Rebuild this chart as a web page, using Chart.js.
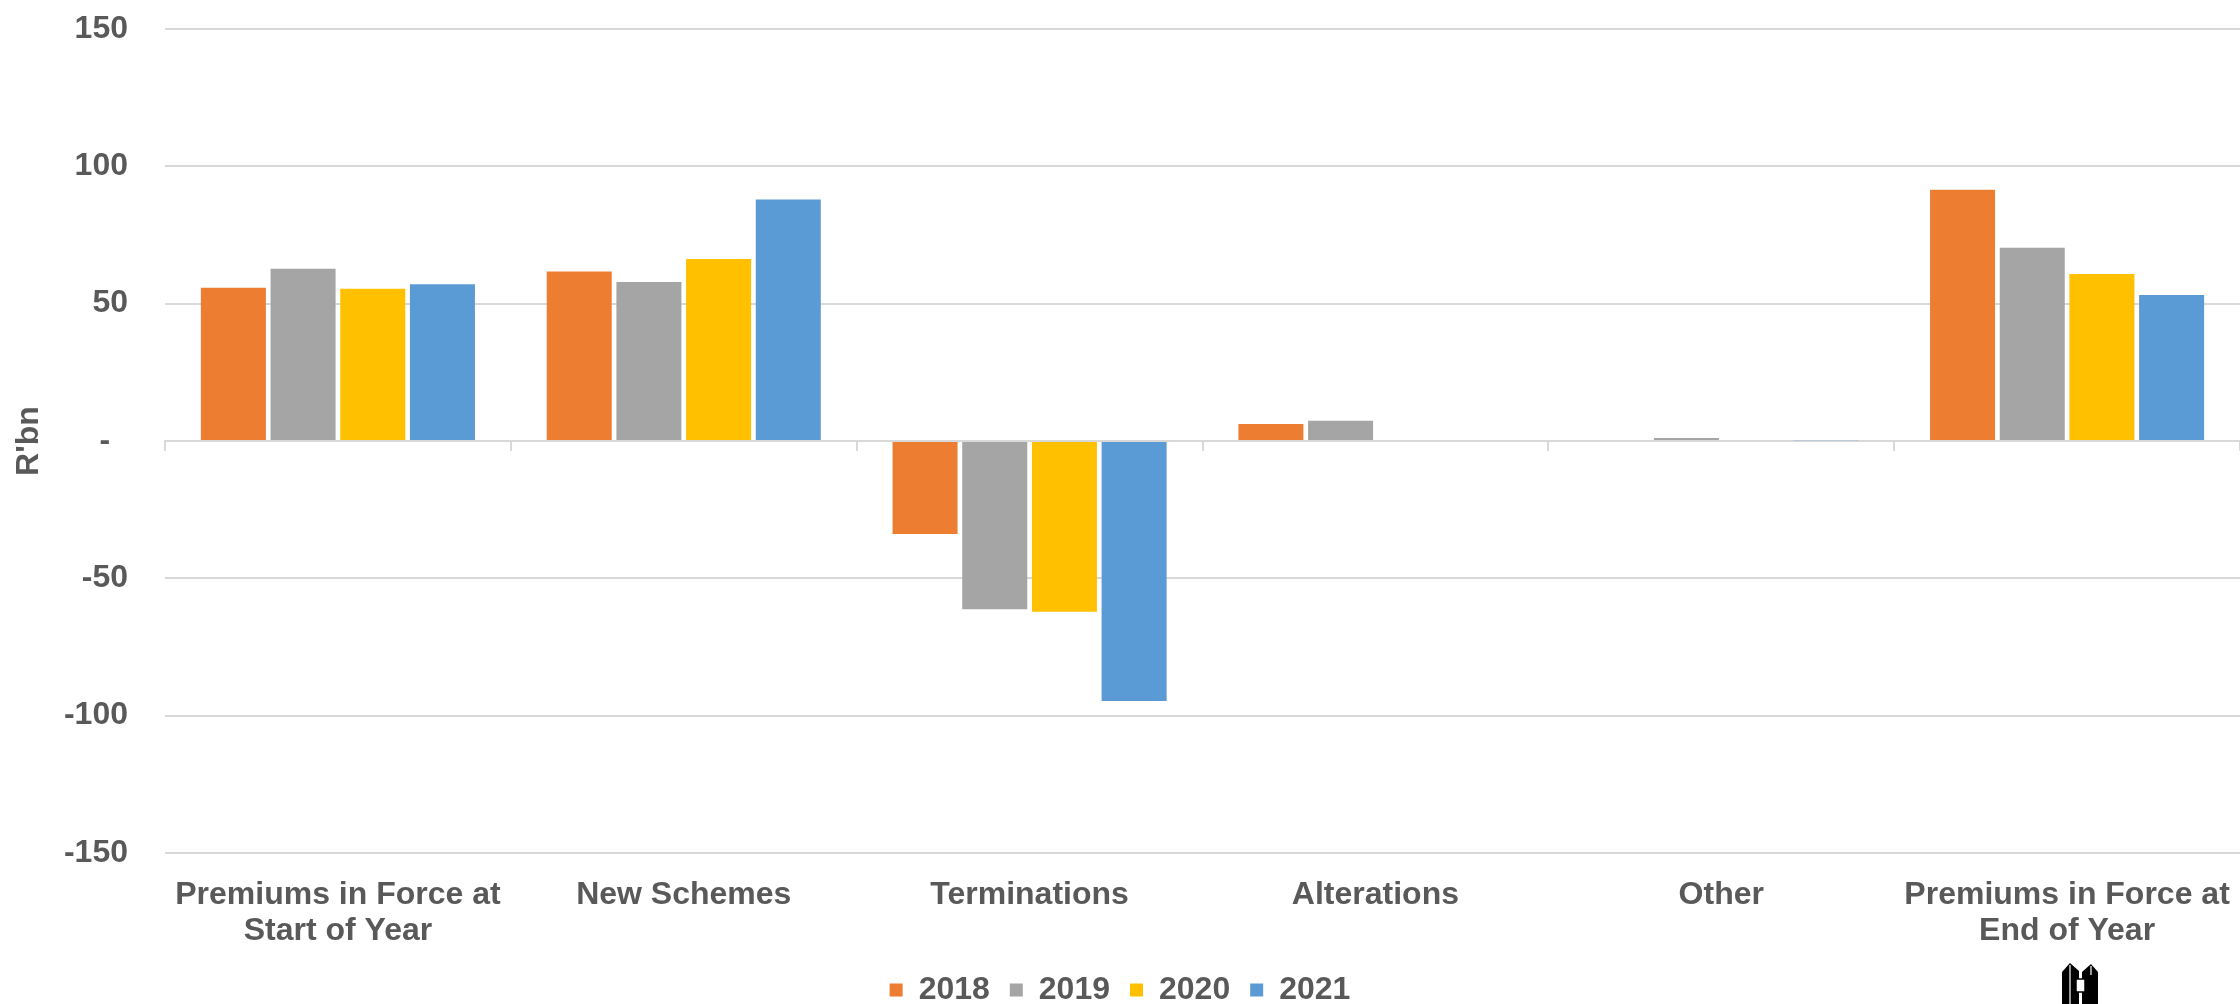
<!DOCTYPE html>
<html>
<head>
<meta charset="utf-8">
<title>Group risk premiums movement</title>
<script src="https://cdn.jsdelivr.net/npm/chart.js@4.4.1/dist/chart.umd.min.js"></script>
<style>
  html, body { margin: 0; padding: 0; background: #ffffff; overflow: hidden; }
  #wrap { width: 2240px; height: 1016px; position: relative; }
</style>
</head>
<body>
<div id="wrap"><canvas id="chart"></canvas></div>
<script>
// Movement in premiums in force (R'bn), by year
const categories = [
  ['Premiums in Force at', 'Start of Year'],
  'New Schemes',
  'Terminations',
  'Alterations',
  'Other',
  ['Premiums in Force at', 'End of Year']
];
const years = ['2018', '2019', '2020', '2021'];
const values2018 = [55.8, 61.7, -33.9, 6.2, 0, 91.5];
const values2019 = [62.7, 57.9, -61.3, 7.4, 1.1, 70.4];
const values2020 = [55.4, 66.3, -62.2, 0, 0, 60.8];
const values2021 = [57.1, 87.9, -94.7, 0, 0.3, 53.2];
const yTicks = [-150, -100, -50, 0, 50, 100, 150];

const seriesColors = ['#ED7D31', '#A5A5A5', '#FFC000', '#5B9BD5'];
const textColor = '#595959';
const gridColor = '#d9d9d9';
const fontFamily = "'Liberation Sans', Arial, sans-serif";

const seriesValues = [values2018, values2019, values2020, values2021];
const datasets = years.map((y, i) => ({
  label: y,
  data: seriesValues[i],
  backgroundColor: seriesColors[i],
  borderWidth: 0,
  categoryPercentage: 0.806,
  barPercentage: 0.933
}));

// small building mark in the lower right corner
const logoPlugin = {
  id: 'logo',
  afterDraw(chart) {
    const ctx = chart.ctx;
    const ox = chart.width - 178, oy = 963;
    ctx.save();
    ctx.fillStyle = '#000';
    ctx.beginPath();
    ctx.moveTo(ox, oy + 9); ctx.lineTo(ox + 8, oy); ctx.lineTo(ox + 17, oy + 8);
    ctx.lineTo(ox + 17, oy + 45); ctx.lineTo(ox, oy + 45); ctx.closePath();
    ctx.fill();
    ctx.beginPath();
    ctx.moveTo(ox + 20, oy + 9); ctx.lineTo(ox + 29, oy + 1); ctx.lineTo(ox + 36, oy + 9);
    ctx.lineTo(ox + 36, oy + 45); ctx.lineTo(ox + 20, oy + 45); ctx.closePath();
    ctx.fill();
    ctx.strokeStyle = '#fff';
    ctx.lineWidth = 1.2;
    ctx.beginPath();
    ctx.moveTo(ox + 8, oy + 2); ctx.lineTo(ox + 8, oy + 45);
    ctx.moveTo(ox + 29, oy + 3); ctx.lineTo(ox + 29, oy + 12);
    ctx.stroke();
    ctx.fillStyle = '#fff';
    ctx.fillRect(ox + 14, oy + 16, 9, 13);
    ctx.strokeStyle = '#000';
    ctx.lineWidth = 1.5;
    ctx.strokeRect(ox + 14, oy + 16, 9, 13);
    ctx.restore();
  }
};

new Chart(document.getElementById('chart'), {
  type: 'bar',
  data: { labels: categories, datasets },
  plugins: [logoPlugin],
  options: {
    responsive: true,
    maintainAspectRatio: false,
    animation: false,
    layout: { padding: { top: 29, right: 0, left: 0, bottom: 0 } },
    plugins: {
      tooltip: { enabled: false },
      legend: {
        position: 'bottom',
        labels: {
          boxWidth: 13,
          boxHeight: 13,
          padding: 20,
          color: textColor,
          font: { family: fontFamily, size: 32, weight: 'bold' }
        }
      }
    },
    scales: {
      x: {
        type: 'category',
        offset: true,
        grid: { display: false },
        border: { display: false },
        ticks: {
          color: textColor,
          padding: 16,
          maxRotation: 0,
          autoSkip: false,
          font: { family: fontFamily, size: 32, weight: 'bold', lineHeight: 1.125 }
        },
        afterFit(scale) {
          scale.height -= 11;
          scale.paddingLeft = 0;
          scale.paddingRight = 0;
        }
      },
      // category axis line drawn through zero, with tick marks between groups
      xZero: {
        type: 'category',
        position: { y: 0 },
        offset: true,
        grid: {
          offset: true,
          drawOnChartArea: false,
          drawTicks: true,
          tickLength: 9,
          color: gridColor,
          lineWidth: 2
        },
        border: { display: true, color: gridColor, width: 2 },
        ticks: { display: false },
        afterFit(scale) {
          scale.paddingLeft = 0;
          scale.paddingRight = 0;
        }
      },
      y: {
        min: yTicks[0],
        max: yTicks[yTicks.length - 1],
        afterBuildTicks(scale) { scale.ticks = yTicks.map(v => ({ value: v })); },
        grid: { color: gridColor, lineWidth: 2, drawTicks: false },
        border: { display: false },
        ticks: {
          color: textColor,
          padding: 37,
          font: { family: fontFamily, size: 32, weight: 'bold' },
          callback: (v) => (v === 0 ? '-  ' : String(v))
        },
        title: {
          display: true,
          text: "R'bn",
          color: textColor,
          padding: { top: 13, bottom: 19 },
          font: { family: fontFamily, size: 32, weight: 'bold', lineHeight: 1 }
        },
        afterFit(scale) {
          scale.width = 165;
          scale.paddingTop = 0;
          scale.paddingBottom = 0;
        }
      }
    }
  }
});
</script>
</body>
</html>
